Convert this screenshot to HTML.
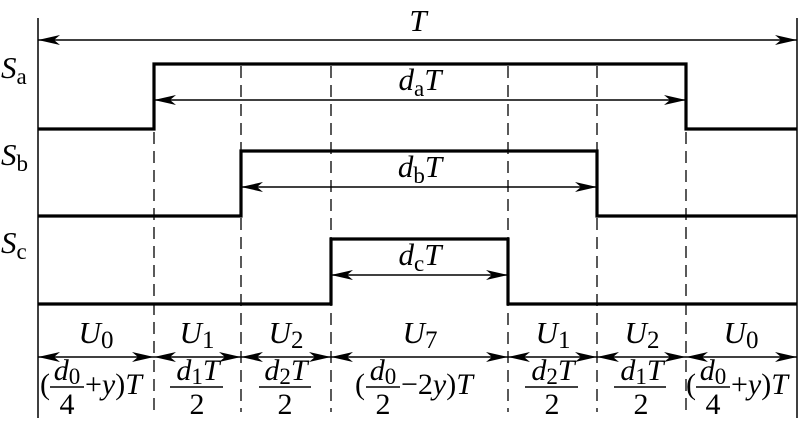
<!DOCTYPE html>
<html><head><style>html,body{margin:0;padding:0;background:#fff}svg{display:block}
svg text{font-family:"Liberation Serif","DejaVu Serif","Times New Roman",serif}</style></head><body>
<svg width="800" height="428" viewBox="0 0 800 428" xmlns="http://www.w3.org/2000/svg" fill="#000">
<defs>
<path id="ar" d="M0,0 L-22,-5 L-16,0 L-22,5 Z" fill="#000"/>
</defs>
<g stroke="#000" fill="none">
<line x1="38" y1="18" x2="38" y2="418" stroke-width="1.5"/>
<line x1="797" y1="18" x2="797" y2="418" stroke-width="1.5"/>
<g stroke-dasharray="12,7" stroke-width="1.3">
<line x1="154" y1="132" x2="154" y2="412"/>
<line x1="241" y1="66" x2="241" y2="412"/>
<line x1="331" y1="66" x2="331" y2="412"/>
<line x1="508" y1="66" x2="508" y2="412"/>
<line x1="597" y1="66" x2="597" y2="412"/>
<line x1="686" y1="132" x2="686" y2="412"/>
</g>
<g stroke-width="3.2">
<polyline points="38,129 154,129 154,64 686,64 686,129 797,129"/>
<polyline points="38,216 241,216 241,151 597,151 597,216 797,216"/>
<polyline points="38,304 331,304 331,239 508,239 508,304 797,304"/>
</g>
<g stroke-width="1.5">
<line x1="38" y1="40" x2="797" y2="40"/>
<line x1="154" y1="100" x2="686" y2="100"/>
<line x1="241" y1="187" x2="597" y2="187"/>
<line x1="331" y1="275" x2="508" y2="275"/>
<line x1="38" y1="357" x2="797" y2="357"/>
</g>
</g>
<g>
<use href="#ar" transform="translate(38,40) rotate(180)"/>
<use href="#ar" transform="translate(797,40)"/>
<use href="#ar" transform="translate(154,100) rotate(180)"/>
<use href="#ar" transform="translate(686,100)"/>
<use href="#ar" transform="translate(241,187) rotate(180)"/>
<use href="#ar" transform="translate(597,187)"/>
<use href="#ar" transform="translate(331,275) rotate(180)"/>
<use href="#ar" transform="translate(508,275)"/>
<use href="#ar" transform="translate(38,357) rotate(180)"/><use href="#ar" transform="translate(154,357)"/>
<use href="#ar" transform="translate(154,357) rotate(180)"/><use href="#ar" transform="translate(241,357)"/>
<use href="#ar" transform="translate(241,357) rotate(180)"/><use href="#ar" transform="translate(331,357)"/>
<use href="#ar" transform="translate(331,357) rotate(180)"/><use href="#ar" transform="translate(508,357)"/>
<use href="#ar" transform="translate(508,357) rotate(180)"/><use href="#ar" transform="translate(597,357)"/>
<use href="#ar" transform="translate(597,357) rotate(180)"/><use href="#ar" transform="translate(686,357)"/>
<use href="#ar" transform="translate(686,357) rotate(180)"/><use href="#ar" transform="translate(797,357)"/>
</g>
<g font-size="31">
<text x="418" y="31" font-style="italic" text-anchor="middle">T</text>
<text x="1" y="78" font-style="italic">S<tspan font-style="normal" font-size="23" dy="6">a</tspan></text>
<text x="1" y="165" font-style="italic">S<tspan font-style="normal" font-size="23" dy="6">b</tspan></text>
<text x="1" y="253" font-style="italic">S<tspan font-style="normal" font-size="23" dy="6">c</tspan></text>
<text x="420" y="90" text-anchor="middle"><tspan font-style="italic">d</tspan><tspan font-size="23" dy="6">a</tspan><tspan font-style="italic" dy="-6">T</tspan></text>
<text x="420" y="177" text-anchor="middle"><tspan font-style="italic">d</tspan><tspan font-size="23" dy="6">b</tspan><tspan font-style="italic" dy="-6">T</tspan></text>
<text x="420" y="265" text-anchor="middle"><tspan font-style="italic">d</tspan><tspan font-size="23" dy="6">c</tspan><tspan font-style="italic" dy="-6">T</tspan></text>
</g>
<g font-size="31" text-anchor="middle">
<text x="96" y="343"><tspan font-style="italic">U</tspan><tspan font-size="25" dy="5">0</tspan></text>
<text x="197" y="343"><tspan font-style="italic">U</tspan><tspan font-size="25" dy="5">1</tspan></text>
<text x="286" y="343"><tspan font-style="italic">U</tspan><tspan font-size="25" dy="5">2</tspan></text>
<text x="420" y="343"><tspan font-style="italic">U</tspan><tspan font-size="25" dy="5">7</tspan></text>
<text x="553" y="343"><tspan font-style="italic">U</tspan><tspan font-size="25" dy="5">1</tspan></text>
<text x="642" y="343"><tspan font-style="italic">U</tspan><tspan font-size="25" dy="5">2</tspan></text>
<text x="741" y="343"><tspan font-style="italic">U</tspan><tspan font-size="25" dy="5">0</tspan></text>
</g>
<g font-size="30">
<text x="40" y="394">(</text>
<text x="67" y="380" text-anchor="middle"><tspan font-style="italic">d</tspan><tspan font-size="23" dy="4">0</tspan></text>
<line x1="50" y1="387" x2="84" y2="387" stroke="#000" stroke-width="1.5"/>
<text x="67" y="414" text-anchor="middle">4</text>
<text x="85" y="394">+<tspan font-style="italic">y</tspan>)<tspan font-style="italic">T</tspan></text>
<text x="198" y="380" text-anchor="middle"><tspan font-style="italic">d</tspan><tspan font-size="23" dy="4">1</tspan><tspan font-style="italic" dy="-4">T</tspan></text>
<line x1="170" y1="387" x2="223" y2="387" stroke="#000" stroke-width="1.5"/>
<text x="197" y="414" text-anchor="middle">2</text>
<text x="286" y="380" text-anchor="middle"><tspan font-style="italic">d</tspan><tspan font-size="23" dy="4">2</tspan><tspan font-style="italic" dy="-4">T</tspan></text>
<line x1="259" y1="387" x2="311" y2="387" stroke="#000" stroke-width="1.5"/>
<text x="285" y="414" text-anchor="middle">2</text>
<text x="355" y="394">(</text>
<text x="383" y="380" text-anchor="middle"><tspan font-style="italic">d</tspan><tspan font-size="23" dy="4">0</tspan></text>
<line x1="366" y1="387" x2="400" y2="387" stroke="#000" stroke-width="1.5"/>
<text x="383" y="414" text-anchor="middle">2</text>
<text x="401" y="394">−2<tspan font-style="italic">y</tspan>)<tspan font-style="italic">T</tspan></text>
<text x="553" y="380" text-anchor="middle"><tspan font-style="italic">d</tspan><tspan font-size="23" dy="4">2</tspan><tspan font-style="italic" dy="-4">T</tspan></text>
<line x1="525" y1="387" x2="578" y2="387" stroke="#000" stroke-width="1.5"/>
<text x="552" y="414" text-anchor="middle">2</text>
<text x="642" y="380" text-anchor="middle"><tspan font-style="italic">d</tspan><tspan font-size="23" dy="4">1</tspan><tspan font-style="italic" dy="-4">T</tspan></text>
<line x1="614" y1="387" x2="666" y2="387" stroke="#000" stroke-width="1.5"/>
<text x="641" y="414" text-anchor="middle">2</text>
<text x="686" y="394">(</text>
<text x="713" y="380" text-anchor="middle"><tspan font-style="italic">d</tspan><tspan font-size="23" dy="4">0</tspan></text>
<line x1="696" y1="387" x2="730" y2="387" stroke="#000" stroke-width="1.5"/>
<text x="713" y="414" text-anchor="middle">4</text>
<text x="731" y="394">+<tspan font-style="italic">y</tspan>)<tspan font-style="italic">T</tspan></text>
</g>
</svg>
</body></html>
